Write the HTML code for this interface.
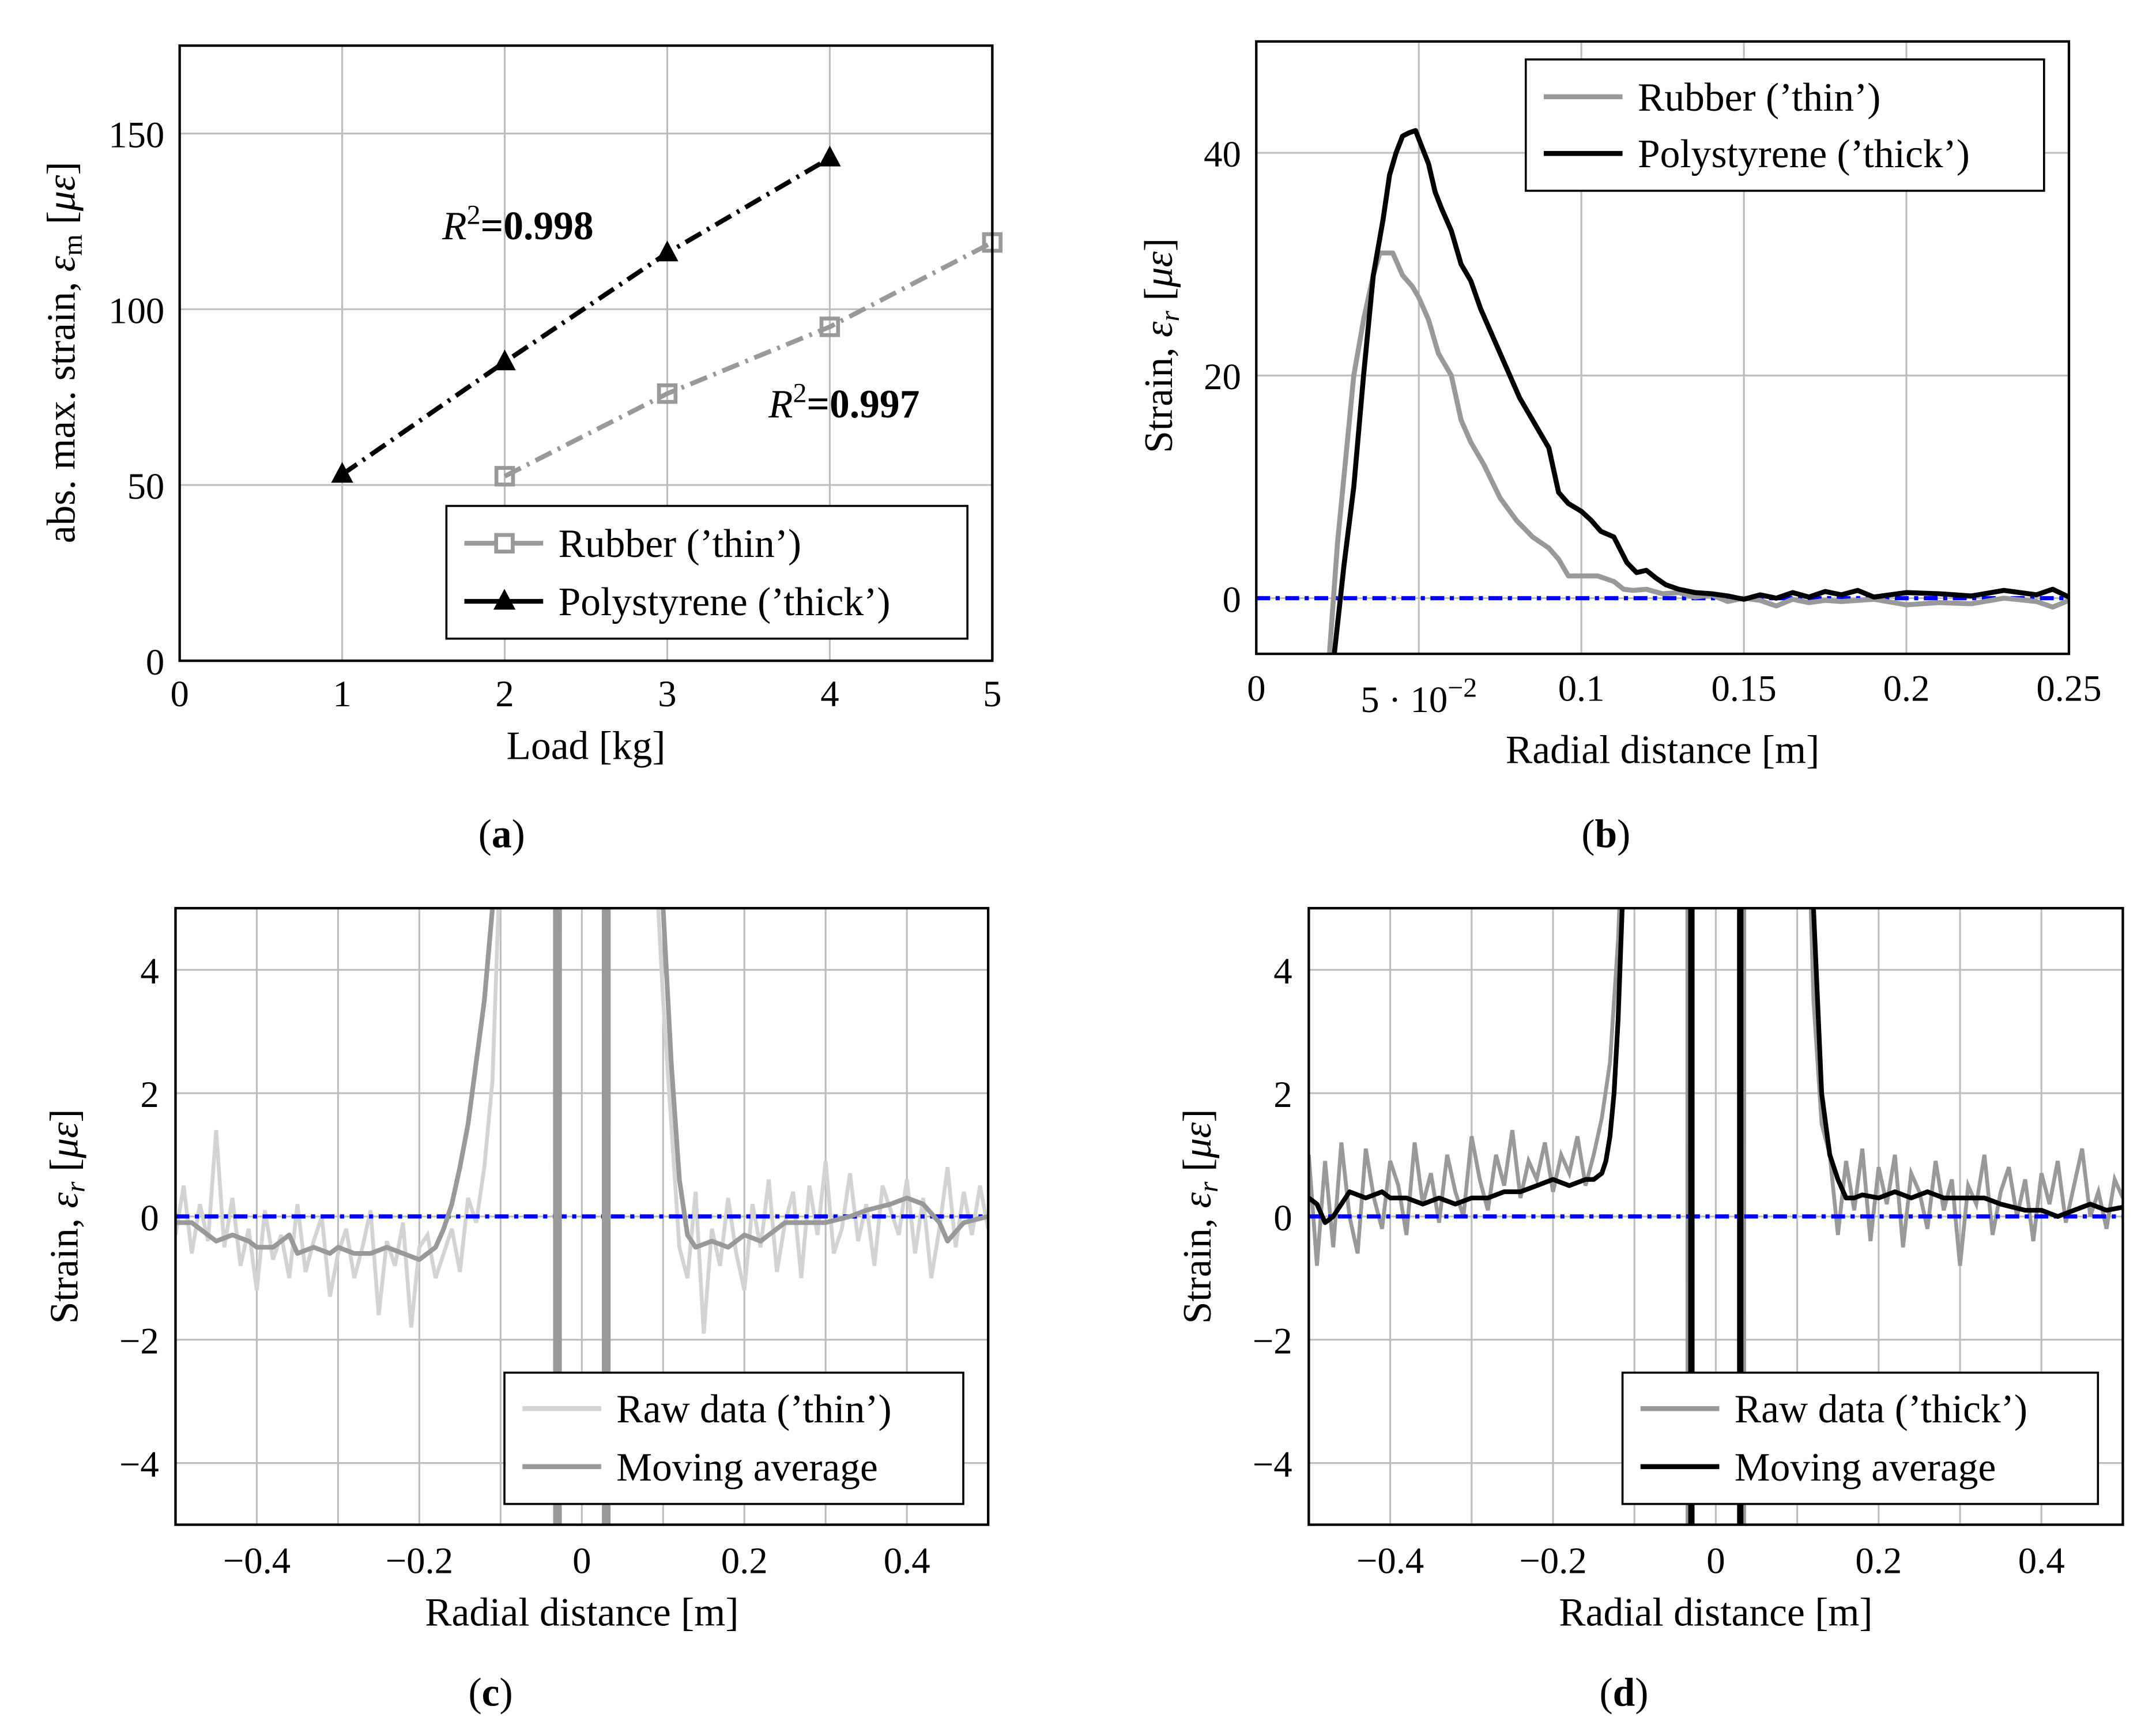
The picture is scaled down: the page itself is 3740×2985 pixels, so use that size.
<!DOCTYPE html>
<html><head><meta charset="utf-8"><style>
html,body{margin:0;padding:0;background:#fff;width:3740px;height:2985px;overflow:hidden;}
svg{display:block;font-family:"Liberation Serif",serif;}
</style></head><body>
<svg id="fig" xmlns="http://www.w3.org/2000/svg" width="3740" height="2985" viewBox="0 0 1560 1245" preserveAspectRatio="none">
<defs>
<clipPath id="clipB"><rect x="909" y="30" width="588" height="443"/></clipPath>
<clipPath id="clipC"><rect x="127" y="657" width="588" height="446"/></clipPath>
<clipPath id="clipD"><rect x="947" y="657" width="589" height="446"/></clipPath>
</defs>
<g id="layer"></g>
</svg>
<script>
// ---------- Panel (a) data ----------
const aThickX = [1, 2, 3, 4];
const aThickY = [53, 85, 116, 143];
const aThinX = [2, 3, 4, 5];
const aThinY = [52.5, 76, 95, 119];
const aXTicks = [0, 1, 2, 3, 4, 5];
const aYTicks = [0, 50, 100, 150];

// ---------- Panel (b) data ----------
const bThinX = [0.0225,0.025,0.028,0.03,0.033,0.036,0.038,0.042,0.045,0.048,0.05,0.053,0.056,0.06,0.063,0.066,0.07,0.075,0.08,0.085,0.09,0.093,0.096,0.1,0.105,0.11,0.113,0.116,0.12,0.125,0.13,0.135,0.14,0.145,0.15,0.155,0.16,0.165,0.17,0.175,0.18,0.19,0.2,0.21,0.22,0.23,0.24,0.245,0.25];
const bThinY = [-5,5,14,20,25,29,31,31,29,28,27,25,22,20,16,14,12,9,7,5.5,4.5,3.5,2,2,2,1.5,0.8,0.7,0.8,0.4,0.5,0.1,0.3,-0.3,0,-0.2,-0.7,-0.1,-0.4,-0.2,-0.3,-0.1,-0.6,-0.4,-0.5,0,-0.3,-0.8,-0.2];
const bThickX = [0.024,0.027,0.03,0.033,0.036,0.039,0.041,0.043,0.045,0.047,0.049,0.051,0.053,0.055,0.057,0.06,0.063,0.066,0.069,0.072,0.075,0.078,0.081,0.084,0.087,0.09,0.093,0.096,0.1,0.103,0.106,0.11,0.114,0.117,0.12,0.123,0.126,0.13,0.135,0.14,0.145,0.15,0.155,0.16,0.165,0.17,0.175,0.18,0.185,0.19,0.2,0.21,0.22,0.23,0.24,0.245,0.25];
const bThickY = [-5,3,10,20,29,34,38,40,41.5,41.8,42,40.5,39,36.5,35,33,30,28.5,26,24,22,20,18,16.5,15,13.5,9.5,8.5,7.8,7,6,5.5,3.2,2.3,2.5,1.8,1.2,0.8,0.5,0.4,0.2,-0.1,0.3,0.0,0.5,0.1,0.6,0.3,0.7,0.1,0.5,0.4,0.2,0.7,0.3,0.8,0.1];
const bXTicks = [0, 0.05, 0.1, 0.15, 0.2, 0.25];
const bXTickLabels = ["0", "5·10", "0.1", "0.15", "0.2", "0.25"];
const bYTicks = [0, 20, 40];

// ---------- Panel (c) data ----------
const cRawLeftX = [-0.5,-0.49,-0.48,-0.47,-0.46,-0.45,-0.44,-0.43,-0.42,-0.41,-0.4,-0.39,-0.38,-0.37,-0.36,-0.35,-0.34,-0.33,-0.32,-0.31,-0.3,-0.29,-0.28,-0.27,-0.26,-0.25,-0.24,-0.23,-0.22,-0.21,-0.2,-0.19,-0.18,-0.17,-0.16,-0.15,-0.14,-0.13,-0.12,-0.11,-0.1];
const cRawLeftY = [-0.3,0.5,-0.6,0.2,-0.4,1.4,-0.5,0.3,-0.8,-0.2,-1.2,0.1,-0.7,-0.3,-1.0,0.2,-0.9,-0.4,0.0,-1.3,-0.6,-0.2,-1.0,-0.5,0.1,-1.6,-0.4,-0.8,-0.1,-1.8,-0.5,-0.3,-1.0,-0.6,-0.2,-0.9,0.3,-0.1,0.8,2.2,6];
const cRawRightX = [0.09,0.1,0.11,0.12,0.13,0.14,0.15,0.16,0.17,0.18,0.19,0.2,0.21,0.22,0.23,0.24,0.25,0.26,0.27,0.28,0.29,0.3,0.31,0.32,0.33,0.34,0.35,0.36,0.37,0.38,0.39,0.4,0.41,0.42,0.43,0.44,0.45,0.46,0.47,0.48,0.49,0.5];
const cRawRightY = [6,3.5,1.5,-0.5,-1.0,0.4,-1.9,-0.2,-0.8,0.3,-0.6,-1.2,0.2,-0.5,0.6,-0.9,-0.1,0.4,-1.0,0.5,-0.3,0.9,-0.6,-0.2,0.7,-0.4,0.2,-0.8,0.5,0.1,-0.3,0.6,-0.6,0.3,-1.0,-0.2,0.8,-0.5,0.4,-0.3,0.5,-0.2];
const cCenterX = [-0.034,-0.032,-0.029,-0.026,0.026,0.029,0.032,0.034];
const cCenterY = [60,-60,-60,60,60,-60,-60,60];
const cAvgX = [-0.5,-0.48,-0.46,-0.45,-0.43,-0.41,-0.4,-0.38,-0.36,-0.35,-0.33,-0.31,-0.3,-0.28,-0.26,-0.24,-0.22,-0.2,-0.18,-0.17,-0.16,-0.15,-0.14,-0.13,-0.12,-0.11,-0.105,-0.1,-0.095,-0.06,-0.035,-0.03,-0.025,0.025,0.03,0.035,0.06,0.09,0.095,0.1,0.11,0.12,0.13,0.14,0.16,0.18,0.2,0.22,0.25,0.28,0.3,0.33,0.35,0.38,0.4,0.42,0.44,0.45,0.47,0.5];
const cAvgY = [-0.1,-0.1,-0.3,-0.4,-0.3,-0.4,-0.5,-0.5,-0.3,-0.6,-0.5,-0.6,-0.5,-0.6,-0.6,-0.5,-0.6,-0.7,-0.5,-0.2,0.2,0.8,1.5,2.5,3.5,5,7,10,20,80,200,-200,200,200,-200,200,80,20,10,5,2.5,0.6,-0.3,-0.5,-0.4,-0.5,-0.3,-0.4,-0.1,-0.1,-0.1,0.0,0.1,0.2,0.3,0.2,-0.1,-0.4,-0.1,0.0];

// ---------- Panel (d) data ----------
const dRawLeftX = [-0.5,-0.49,-0.48,-0.47,-0.46,-0.45,-0.44,-0.43,-0.42,-0.41,-0.4,-0.39,-0.38,-0.37,-0.36,-0.35,-0.34,-0.33,-0.32,-0.31,-0.3,-0.29,-0.28,-0.27,-0.26,-0.25,-0.24,-0.23,-0.22,-0.21,-0.2,-0.19,-0.18,-0.17,-0.16,-0.15,-0.14,-0.13,-0.12,-0.11];
const dRawLeftY = [1.0,-0.8,0.9,-0.5,1.2,0.0,-0.6,1.1,0.3,-0.2,0.9,0.5,-0.3,1.2,0.2,0.7,-0.1,1.0,0.4,0.0,1.3,0.6,0.1,1.0,0.5,1.4,0.3,0.9,0.6,1.2,0.4,1.0,0.7,1.3,0.5,1.0,1.6,2.5,4.5,8];
const dRawRightX = [0.11,0.12,0.13,0.14,0.15,0.16,0.17,0.18,0.19,0.2,0.21,0.22,0.23,0.24,0.25,0.26,0.27,0.28,0.29,0.3,0.31,0.32,0.33,0.34,0.35,0.36,0.37,0.38,0.39,0.4,0.41,0.42,0.43,0.44,0.45,0.46,0.47,0.48,0.49,0.5];
const dRawRightY = [8,3.5,1.5,1.0,-0.3,0.9,0.1,1.1,-0.4,0.8,0.2,1.0,-0.5,0.7,0.4,-0.2,0.9,0.1,0.6,-0.8,0.5,0.2,1.0,-0.3,0.4,0.8,0.0,0.6,-0.4,0.7,0.2,0.9,-0.1,0.5,1.1,0.0,0.4,-0.2,0.6,0.3];
const dCenterX = [-0.036,-0.034,-0.031,-0.029,0.029,0.031,0.034,0.036];
const dCenterY = [60,-60,-60,60,60,-60,-60,60];
const dAvgX = [-0.5,-0.49,-0.48,-0.47,-0.46,-0.45,-0.43,-0.41,-0.4,-0.38,-0.36,-0.34,-0.32,-0.3,-0.28,-0.26,-0.24,-0.22,-0.2,-0.18,-0.16,-0.15,-0.14,-0.135,-0.13,-0.125,-0.12,-0.115,-0.1,-0.06,-0.032,-0.03,-0.028,0.028,0.03,0.032,0.06,0.11,0.12,0.125,0.13,0.14,0.15,0.16,0.17,0.18,0.2,0.22,0.24,0.26,0.28,0.3,0.33,0.35,0.38,0.4,0.42,0.44,0.46,0.48,0.5];
const dAvgY = [0.3,0.2,-0.1,0.0,0.2,0.4,0.3,0.4,0.3,0.3,0.2,0.3,0.2,0.3,0.3,0.4,0.4,0.5,0.6,0.5,0.6,0.6,0.7,0.9,1.3,2,3.2,5,10,80,200,-200,200,200,-200,200,80,10,5,3.5,2,1,0.6,0.3,0.3,0.35,0.3,0.4,0.3,0.4,0.3,0.3,0.3,0.2,0.1,0.1,0.0,0.1,0.2,0.1,0.15];
const cdXTicks = [-0.4, -0.2, 0, 0.2, 0.4];
const cdXGrid = [-0.4, -0.3, -0.2, -0.1, 0, 0.1, 0.2, 0.3, 0.4];
const cdYTicks = [-4, -2, 0, 2, 4];
const cdYTickLabels = ["\u22124", "\u22122", "0", "2", "4"];
const cdXTickLabels = ["\u22120.4", "\u22120.2", "0", "0.2", "0.4"];

const NS = "http://www.w3.org/2000/svg";
const root = document.getElementById("layer");
const TS = 27, LS = 29;
function mk(tag, attrs, parent) {
  const e = document.createElementNS(NS, tag);
  for (const k in attrs) e.setAttribute(k, attrs[k]);
  (parent || root).appendChild(e);
  return e;
}
function scale(d0, d1, r0, r1) { return v => r0 + (v - d0) / (d1 - d0) * (r1 - r0); }
function pts(xs, ys, sx, sy) { return xs.map((x, i) => sx(x).toFixed(2) + "," + sy(ys[i]).toFixed(2)).join(" "); }
function txt(s, x, y, size, anchor, parent, extra) {
  const t = mk("text", Object.assign({x: x, y: y, "font-size": size, "text-anchor": anchor || "middle", fill: "#000"}, extra || {}), parent);
  t.textContent = s;
  return t;
}
const GRID = "#bdbdbd";

// ===== Panel (a) =====
const ax = scale(0, 5, 130, 718), ay = scale(0, 175, 478, 33);
const gA = mk("g", {});


aXTicks.forEach(v => {
  const l = mk("line", {x1: ax(v), x2: ax(v), y1: 33, y2: 478, stroke: GRID, "stroke-width": 1.3}, gA);
  
  
  const t = txt(String(v), ax(v), 511, TS, "middle", gA);
  
  
});
aYTicks.forEach(v => {
  const l = mk("line", {x1: 130, x2: 718, y1: ay(v), y2: ay(v), stroke: GRID, "stroke-width": 1.3}, gA);
  
  
  const t = txt(String(v), 119, ay(v) + 10, TS, "end", gA);
  
  
});
const thinLineA = mk("polyline", {points: pts(aThinX, aThinY, ax, ay), fill: "none", stroke: "#999", "stroke-width": 3.4, "stroke-dasharray": "13 5 2 5"}, gA);


const thickLineA = mk("polyline", {points: pts(aThickX, aThickY, ax, ay), fill: "none", stroke: "#000", "stroke-width": 3.4, "stroke-dasharray": "13 5 2 5"}, gA);


aThinX.forEach((x, i) => {
  const r = mk("rect", {x: ax(x) - 6, y: ay(aThinY[i]) - 6, width: 12, height: 12, fill: "none", stroke: "#999", "stroke-width": 2.8}, gA);
  
  
});
aThickX.forEach((x, i) => {
  const cx = ax(x), cy = ay(aThickY[i]);
  const p = mk("polygon", {points: `${cx},${cy-9} ${cx-8},${cy+6} ${cx+8},${cy+6}`, fill: "#000"}, gA);
  
  
});
mk("rect", {x: 130, y: 33, width: 588, height: 445, fill: "none", stroke: "#000", "stroke-width": 1.8}, gA);
const r1 = mk("text", {x: 320, y: 173, "font-size": LS}, gA);


r1.innerHTML = '<tspan font-style="italic">R</tspan><tspan dy="-11" font-size="20">2</tspan><tspan dy="11" font-weight="bold">=0.998</tspan>';
const r2 = mk("text", {x: 556, y: 302, "font-size": LS}, gA);


r2.innerHTML = '<tspan font-style="italic">R</tspan><tspan dy="-11" font-size="20">2</tspan><tspan dy="11" font-weight="bold">=0.997</tspan>';
const legA = mk("g", {}, gA);


mk("rect", {x: 323, y: 366, width: 377, height: 96, fill: "#fff", stroke: "#000", "stroke-width": 1.5}, legA);
mk("line", {x1: 336, x2: 393, y1: 393, y2: 393, stroke: "#999", "stroke-width": 3.4}, legA);
mk("rect", {x: 359, y: 387, width: 12, height: 12, fill: "#fff", stroke: "#999", "stroke-width": 2.8}, legA);
txt("Rubber (\u2019thin\u2019)", 404, 403, LS, "start", legA);
mk("line", {x1: 336, x2: 393, y1: 435, y2: 435, stroke: "#000", "stroke-width": 3.4}, legA);
mk("polygon", {points: "365,426 357,441 373,441", fill: "#000"}, legA);
txt("Polystyrene (\u2019thick\u2019)", 404, 445, LS, "start", legA);
const ylA = mk("text", {"font-size": LS, "text-anchor": "middle", transform: "translate(54,255) rotate(-90)"}, gA);


ylA.innerHTML = 'abs. max. strain, <tspan font-style="italic">\u03b5</tspan><tspan font-size="20" dy="5">m</tspan><tspan dy="-5"> [</tspan><tspan font-style="italic">\u03bc\u03b5</tspan>]';
const xlA = txt("Load [kg]", 424, 549, LS, "middle", gA);


const capA = mk("text", {x: 363, y: 613, "font-size": LS, "text-anchor": "middle"}, gA);


capA.innerHTML = '(<tspan font-weight="bold">a</tspan>)';

// ===== Panel (b) =====
const bx = scale(0, 0.25, 909, 1497), by = scale(-5, 50, 473, 30);
const gB = mk("g", {});


bXTicks.forEach((v, i) => {
  const l = mk("line", {x1: bx(v), x2: bx(v), y1: 30, y2: 473, stroke: GRID, "stroke-width": 1.3}, gB);
  
  
  const t = txt(bXTickLabels[i], bx(v), i === 1 ? 515 : 507, TS, "middle", gB);
  
  
  if (i === 1) { t.innerHTML = '5 \u00b7 10<tspan dy="-11" font-size="20">\u22122</tspan>'; }
});
bYTicks.forEach(v => {
  const l = mk("line", {x1: 909, x2: 1497, y1: by(v), y2: by(v), stroke: GRID, "stroke-width": 1.3}, gB);
  
  
  const t = txt(String(v), 898, by(v) + 10, TS, "end", gB);
  
  
});
const clipGB = mk("g", {"clip-path": "url(#clipB)"}, gB);
const zb = mk("line", {x1: 909, x2: 1497, y1: by(0), y2: by(0), stroke: "#0000ff", "stroke-width": 3, "stroke-dasharray": "10 4 3 4"}, clipGB);


const bThin = mk("polyline", {points: pts(bThinX, bThinY, bx, by), fill: "none", stroke: "#999", "stroke-width": 3.6, "stroke-linejoin": "round"}, clipGB);


const bThick = mk("polyline", {points: pts(bThickX, bThickY, bx, by), fill: "none", stroke: "#000", "stroke-width": 3.6, "stroke-linejoin": "round"}, clipGB);


mk("rect", {x: 909, y: 30, width: 588, height: 443, fill: "none", stroke: "#000", "stroke-width": 1.8}, gB);
const legB = mk("g", {}, gB);


mk("rect", {x: 1104, y: 43, width: 375, height: 95, fill: "#fff", stroke: "#000", "stroke-width": 1.5}, legB);
mk("line", {x1: 1117, x2: 1174, y1: 70, y2: 70, stroke: "#999", "stroke-width": 3.6}, legB);
txt("Rubber (\u2019thin\u2019)", 1185, 80, LS, "start", legB);
mk("line", {x1: 1117, x2: 1174, y1: 111, y2: 111, stroke: "#000", "stroke-width": 3.6}, legB);
txt("Polystyrene (\u2019thick\u2019)", 1185, 121, LS, "start", legB);
const ylB = mk("text", {"font-size": LS, "text-anchor": "middle", transform: "translate(848,250) rotate(-90)"}, gB);


ylB.innerHTML = 'Strain, <tspan font-style="italic">\u03b5<tspan font-size="20" dy="5">r</tspan></tspan><tspan dy="-5"> [</tspan><tspan font-style="italic">\u03bc\u03b5</tspan>]';
const xlB = txt("Radial distance [m]", 1203, 552, LS, "middle", gB);


const capB = mk("text", {x: 1162, y: 613, "font-size": LS, "text-anchor": "middle"}, gB);


capB.innerHTML = '(<tspan font-weight="bold">b</tspan>)';

// ===== Panels (c),(d) =====
function cdPanel(name, x0, x1, clipId, rawColor, avgColor, rawL, rawR, center, avg, legendX, legendW, rawLabel, capLetter, capX, ylX) {
  const sx = scale(-0.5, 0.5, x0, x1), sy = scale(-5, 5, 1103, 657);
  const g = mk("g", {});
  
  
  cdXGrid.forEach(v => {
    const l = mk("line", {x1: sx(v), x2: sx(v), y1: 657, y2: 1103, stroke: GRID, "stroke-width": 1.3}, g);
    
    
  });
  cdXTicks.forEach((v, i) => {
    const t = txt(cdXTickLabels[i], sx(v), 1138, TS, "middle", g);
    
    
  });
  cdYTicks.forEach((v, i) => {
    const l = mk("line", {x1: x0, x2: x1, y1: sy(v), y2: sy(v), stroke: GRID, "stroke-width": 1.3}, g);
    
    
    const t = txt(cdYTickLabels[i], x0 - 12, sy(v) + 10, TS, "end", g);
    
    
  });
  const cg = mk("g", {"clip-path": "url(#" + clipId + ")"}, g);
  const r1 = mk("polyline", {points: pts(rawL[0], rawL[1], sx, sy), fill: "none", stroke: rawColor, "stroke-width": 2.8}, cg);
  
  
  const r2 = mk("polyline", {points: pts(rawR[0], rawR[1], sx, sy), fill: "none", stroke: rawColor, "stroke-width": 2.8}, cg);
  
  
  const r3 = mk("polyline", {points: pts(center[0], center[1], sx, sy), fill: "none", stroke: rawColor, "stroke-width": 2.6}, cg);
  
  
  const z = mk("line", {x1: x0, x2: x1, y1: sy(0), y2: sy(0), stroke: "#0000ff", "stroke-width": 3, "stroke-dasharray": "10 4 3 4"}, cg);
  
  
  const a = mk("polyline", {points: pts(avg[0], avg[1], sx, sy), fill: "none", stroke: avgColor, "stroke-width": 3.4, "stroke-linejoin": "round"}, cg);
  
  
  mk("rect", {x: x0, y: 657, width: x1 - x0, height: 446, fill: "none", stroke: "#000", "stroke-width": 1.8}, g);
  const leg = mk("g", {}, g);
  
  
  mk("rect", {x: legendX, y: 993, width: legendW, height: 95, fill: "#fff", stroke: "#000", "stroke-width": 1.5}, leg);
  mk("line", {x1: legendX + 13, x2: legendX + 70, y1: 1019, y2: 1019, stroke: rawColor, "stroke-width": 3.6}, leg);
  txt(rawLabel, legendX + 81, 1029, LS, "start", leg);
  mk("line", {x1: legendX + 13, x2: legendX + 70, y1: 1061, y2: 1061, stroke: avgColor, "stroke-width": 3.6}, leg);
  txt("Moving average", legendX + 81, 1071, LS, "start", leg);
  const yl = mk("text", {"font-size": LS, "text-anchor": "middle", transform: `translate(${ylX},880) rotate(-90)`}, g);
  
  
  yl.innerHTML = 'Strain, <tspan font-style="italic">\u03b5<tspan font-size="20" dy="5">r</tspan></tspan><tspan dy="-5"> [</tspan><tspan font-style="italic">\u03bc\u03b5</tspan>]';
  const xl = txt("Radial distance [m]", (x0 + x1) / 2, 1176, LS, "middle", g);
  
  
  const cap = mk("text", {x: capX, y: 1234, "font-size": LS, "text-anchor": "middle"}, g);
  
  
  cap.innerHTML = '(<tspan font-weight="bold">' + capLetter + '</tspan>)';
}
cdPanel("panel-c", 127, 715, "clipC", "#d3d3d3", "#999",
  [cRawLeftX, cRawLeftY], [cRawRightX, cRawRightY], [cCenterX, cCenterY], [cAvgX, cAvgY],
  365, 332, "Raw data (\u2019thin\u2019)", "c", 355, 56);
cdPanel("panel-d", 947, 1536, "clipD", "#999", "#000",
  [dRawLeftX, dRawLeftY], [dRawRightX, dRawRightY], [dCenterX, dCenterY], [dAvgX, dAvgY],
  1174, 344, "Raw data (\u2019thick\u2019)", "d", 1175, 876);
</script>
</body></html>
